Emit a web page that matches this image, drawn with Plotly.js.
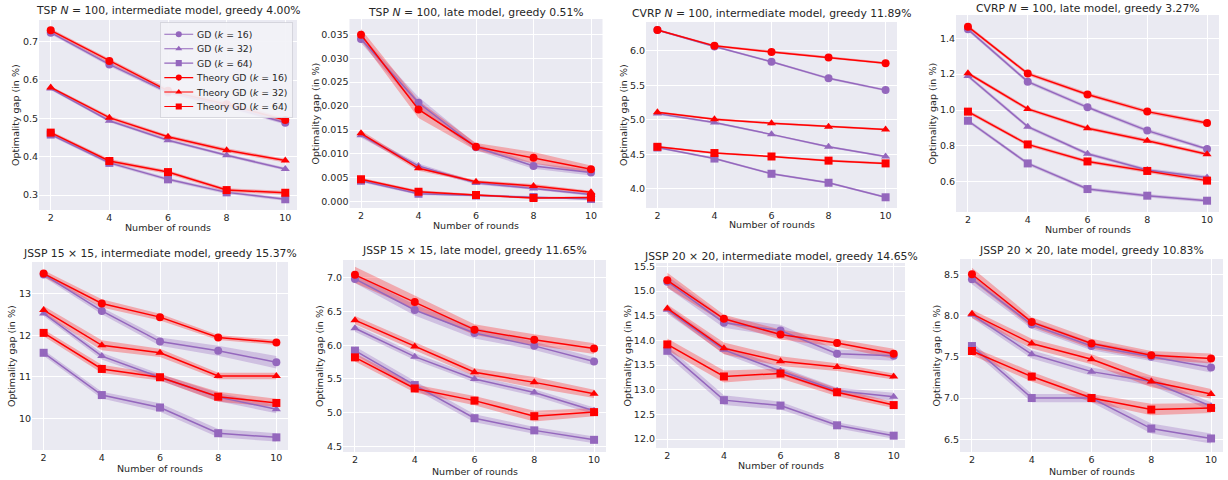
<!DOCTYPE html>
<html>
<head>
<meta charset="utf-8">
<script src="https://cdn.plot.ly/plotly-3.0.1.min.js"></script>
<style>
html,body{margin:0;padding:0;background:#fff;}
#chart{width:1228px;height:480px;}
</style>
</head>
<body>
<div id="chart"></div>
<script>
// ---------------- DATA ----------------
const rounds = [2, 4, 6, 8, 10];
const kValues = ['16', '32', '64'];

const panelTitles = [
  'TSP <i>N</i> = 100, intermediate model, greedy 4.00%',
  'TSP <i>N</i> = 100, late model, greedy 0.51%',
  'CVRP <i>N</i> = 100, intermediate model, greedy 11.89%',
  'CVRP <i>N</i> = 100, late model, greedy 3.27%',
  'JSSP 15 × 15, intermediate model, greedy 15.37%',
  'JSSP 15 × 15, late model, greedy 11.65%',
  'JSSP 20 × 20, intermediate model, greedy 14.65%',
  'JSSP 20 × 20, late model, greedy 10.83%'
];
const xAxisLabel = 'Number of rounds';
const yAxisLabel = 'Optimality gap (in %)';

// each: rows = k=16, k=32, k=64
const tspIntGD        = [[0.724, 0.641, 0.568, 0.532, 0.489], [0.578, 0.494, 0.443, 0.404, 0.368], [0.458, 0.384, 0.341, 0.307, 0.289]];
const tspIntTheory    = [[0.730, 0.650, 0.572, 0.537, 0.496], [0.581, 0.502, 0.452, 0.417, 0.390], [0.463, 0.389, 0.360, 0.313, 0.306]];
const tspIntGDErr     = [[0.004, 0.005, 0.005, 0.005, 0.005], [0.004, 0.004, 0.004, 0.004, 0.004], [0.004, 0.004, 0.004, 0.004, 0.004]];
const tspIntTheoryErr = [[0.005, 0.006, 0.006, 0.007, 0.006], [0.004, 0.005, 0.005, 0.005, 0.005], [0.004, 0.005, 0.005, 0.005, 0.005]];

const tspLateGD        = [[0.0340, 0.0207, 0.0114, 0.0075, 0.0061], [0.0139, 0.0075, 0.0039, 0.0028, 0.0015], [0.0044, 0.0017, 0.0013, 0.0010, 0.0006]];
const tspLateTheory    = [[0.0349, 0.0193, 0.0115, 0.0092, 0.0068], [0.0143, 0.0070, 0.0042, 0.0033, 0.0020], [0.0047, 0.0021, 0.0014, 0.0008, 0.0009]];
const tspLateGDErr     = [[0.0008, 0.0012, 0.0007, 0.0006, 0.0006], [0.0005, 0.0005, 0.0003, 0.0003, 0.0003], [0.0003, 0.0003, 0.0002, 0.0002, 0.0002]];
const tspLateTheoryErr = [[0.0012, 0.0018, 0.0008, 0.0012, 0.0008], [0.0006, 0.0005, 0.0003, 0.0004, 0.0003], [0.0003, 0.0003, 0.0002, 0.0002, 0.0002]];

const cvrpIntGD        = [[6.30, 6.06, 5.84, 5.60, 5.43], [5.09, 4.96, 4.79, 4.61, 4.47], [4.60, 4.44, 4.22, 4.09, 3.88]];
const cvrpIntTheory    = [[6.30, 6.07, 5.98, 5.90, 5.82], [5.11, 5.01, 4.95, 4.90, 4.86], [4.61, 4.52, 4.47, 4.41, 4.37]];
const cvrpIntGDErr     = [[0.015, 0.015, 0.015, 0.015, 0.015], [0.015, 0.015, 0.015, 0.015, 0.015], [0.015, 0.015, 0.015, 0.015, 0.015]];
const cvrpIntTheoryErr = [[0.015, 0.015, 0.015, 0.015, 0.015], [0.015, 0.015, 0.015, 0.015, 0.015], [0.015, 0.015, 0.015, 0.015, 0.015]];

const cvrpLateGD        = [[1.450, 1.158, 1.015, 0.885, 0.782], [1.190, 0.907, 0.756, 0.665, 0.624], [0.940, 0.702, 0.559, 0.522, 0.494]];
const cvrpLateTheory    = [[1.465, 1.203, 1.087, 0.991, 0.927], [1.205, 1.006, 0.898, 0.829, 0.753], [0.991, 0.808, 0.713, 0.660, 0.606]];
const cvrpLateGDErr     = [[0.010, 0.010, 0.010, 0.010, 0.010], [0.010, 0.010, 0.010, 0.010, 0.010], [0.010, 0.010, 0.010, 0.010, 0.010]];
const cvrpLateTheoryErr = [[0.010, 0.010, 0.010, 0.010, 0.010], [0.010, 0.010, 0.010, 0.010, 0.010], [0.010, 0.010, 0.010, 0.010, 0.010]];

const jssp15IntGD        = [[13.47, 12.59, 11.85, 11.63, 11.35], [12.53, 11.50, 10.99, 10.51, 10.22], [11.58, 10.56, 10.26, 9.64, 9.54]];
const jssp15IntTheory    = [[13.49, 12.77, 12.44, 11.95, 11.83], [12.61, 11.76, 11.58, 11.02, 11.02], [12.06, 11.19, 10.99, 10.52, 10.37]];
const jssp15IntGDErr     = [[0.06, 0.08, 0.10, 0.12, 0.15], [0.06, 0.08, 0.08, 0.10, 0.10], [0.07, 0.08, 0.10, 0.10, 0.10]];
const jssp15IntTheoryErr = [[0.08, 0.10, 0.08, 0.06, 0.06], [0.10, 0.12, 0.10, 0.08, 0.08], [0.08, 0.10, 0.08, 0.12, 0.10]];

const jssp15LateGD        = [[6.98, 6.52, 6.18, 5.99, 5.76], [6.25, 5.83, 5.50, 5.30, 5.03], [5.92, 5.41, 4.92, 4.74, 4.60]];
const jssp15LateTheory    = [[7.04, 6.64, 6.23, 6.08, 5.95], [6.37, 5.98, 5.60, 5.45, 5.28], [5.82, 5.36, 5.18, 4.95, 5.01]];
const jssp15LateGDErr     = [[0.06, 0.08, 0.08, 0.06, 0.06], [0.05, 0.05, 0.05, 0.05, 0.05], [0.06, 0.06, 0.06, 0.05, 0.05]];
const jssp15LateTheoryErr = [[0.12, 0.10, 0.08, 0.08, 0.08], [0.06, 0.06, 0.06, 0.08, 0.06], [0.06, 0.06, 0.07, 0.08, 0.06]];

const jssp20IntGD        = [[15.19, 14.36, 14.20, 13.73, 13.69], [14.62, 13.81, 13.38, 12.98, 12.86], [13.79, 12.79, 12.68, 12.28, 12.07]];
const jssp20IntTheory    = [[15.22, 14.44, 14.12, 13.95, 13.73], [14.65, 13.84, 13.58, 13.46, 13.27], [13.92, 13.27, 13.33, 12.95, 12.69]];
const jssp20IntGDErr     = [[0.12, 0.10, 0.12, 0.08, 0.10], [0.08, 0.08, 0.08, 0.06, 0.08], [0.10, 0.10, 0.08, 0.06, 0.06]];
const jssp20IntTheoryErr = [[0.15, 0.08, 0.10, 0.08, 0.10], [0.08, 0.12, 0.10, 0.08, 0.06], [0.12, 0.12, 0.10, 0.08, 0.06]];

const jssp20LateGD        = [[8.44, 7.89, 7.63, 7.50, 7.37], [8.01, 7.53, 7.32, 7.20, 6.90], [7.63, 7.00, 7.00, 6.63, 6.51]];
const jssp20LateTheory    = [[8.50, 7.92, 7.66, 7.52, 7.48], [8.02, 7.66, 7.47, 7.20, 7.05], [7.57, 7.26, 7.00, 6.86, 6.88]];
const jssp20LateGDErr     = [[0.06, 0.05, 0.05, 0.05, 0.06], [0.04, 0.05, 0.05, 0.05, 0.05], [0.05, 0.05, 0.05, 0.06, 0.06]];
const jssp20LateTheoryErr = [[0.08, 0.06, 0.06, 0.05, 0.06], [0.05, 0.06, 0.06, 0.07, 0.06], [0.05, 0.06, 0.05, 0.07, 0.06]];

const panelData = [
  [tspIntGD, tspIntTheory, tspIntGDErr, tspIntTheoryErr],
  [tspLateGD, tspLateTheory, tspLateGDErr, tspLateTheoryErr],
  [cvrpIntGD, cvrpIntTheory, cvrpIntGDErr, cvrpIntTheoryErr],
  [cvrpLateGD, cvrpLateTheory, cvrpLateGDErr, cvrpLateTheoryErr],
  [jssp15IntGD, jssp15IntTheory, jssp15IntGDErr, jssp15IntTheoryErr],
  [jssp15LateGD, jssp15LateTheory, jssp15LateGDErr, jssp15LateTheoryErr],
  [jssp20IntGD, jssp20IntTheory, jssp20IntGDErr, jssp20IntTheoryErr],
  [jssp20LateGD, jssp20LateTheory, jssp20LateGDErr, jssp20LateTheoryErr]
];

// ---------------- LAYOUT CONFIG (pixels) ----------------
const W = 1228, H = 480;
const boxes = [ // [left, right, top, bottom]
  [39, 297, 20, 210],
  [349.5, 602.5, 19, 208],
  [646, 897, 22, 208],
  [956, 1219, 15, 212],
  [32, 288, 262, 450],
  [343, 606, 260, 452],
  [656, 905, 263, 448],
  [960, 1223, 259, 452]
];
const yRanges = [[0.261, 0.757], [-0.0013, 0.0382], [3.725, 6.415], [0.431, 1.530],
                 [9.235, 13.77], [4.42, 7.26], [11.82, 15.57], [6.346, 8.685]];
const yDticks = [0.1, 0.005, 0.5, 0.2, 1, 0.5, 0.5, 0.5];
const yFormats = ['.1f', '.3f', '.1f', '.1f', 'd', '.1f', '.1f', '.1f'];
const titleY = [10, 12.5, 13.5, 8.5, 253, 250, 256, 250];
const xLabelY = [227, 225, 224, 229, 468, 471, 465, 471];
const yLabelX = [15, 315, 623, 932, 11, 319, 627, 936];
const legendBox = {right: 292, top: 22.5, scale: 0.76};

const GD_COLOR = '#9467bd', GD_FILL = 'rgba(148,103,189,0.32)';
const TH_COLOR = '#ff0000', TH_FILL = 'rgba(255,0,0,0.28)';
const markers = ['circle', 'triangle-up', 'square'];
const FONT = 'DejaVu Sans, Verdana, sans-serif';
const TXT = '#262626';

const traces = [];
const layout = {
  width: W, height: H,
  margin: {l: 0, r: 0, t: 0, b: 0},
  paper_bgcolor: '#ffffff',
  plot_bgcolor: '#EAEAF2',
  font: {family: FONT, color: TXT, size: 10},
  showlegend: true,
  legend: {
    x: legendBox.right / W, xanchor: 'right',
    y: 1 - legendBox.top / H, yanchor: 'top',
    bgcolor: 'rgba(242,242,247,0.92)', bordercolor: '#cfcfd6', borderwidth: 1,
    font: {family: FONT, size: 12.2, color: TXT},
    traceorder: 'normal', itemwidth: 38, tracegroupgap: 0
  },
  annotations: [],
  shapes: []
};

function bandTrace(xa, ya, ys, errs, fill) {
  const lo = ys.map((v, i) => v - errs[i]);
  const hi = ys.map((v, i) => v + errs[i]);
  return {
    x: rounds.concat(rounds.slice().reverse()),
    y: lo.concat(hi.slice().reverse()),
    xaxis: xa, yaxis: ya, type: 'scatter', mode: 'lines',
    fill: 'toself', fillcolor: fill, line: {width: 0, color: fill},
    hoverinfo: 'skip', showlegend: false
  };
}

for (let p = 0; p < 8; p++) {
  const n = p + 1;
  const xa = 'x' + (n === 1 ? '' : n), ya = 'y' + (n === 1 ? '' : n);
  const xk = 'xaxis' + (n === 1 ? '' : n), yk = 'yaxis' + (n === 1 ? '' : n);
  const [l, r, t, b] = boxes[p];
  const [gd, th, gdErr, thErr] = panelData[p];

  layout[xk] = {
    domain: [l / W, r / W], anchor: ya, range: [1.6, 10.4],
    tickvals: rounds, ticktext: rounds.map(String),
    showgrid: true, gridcolor: '#ffffff', gridwidth: 1, zeroline: false,
    showline: false, ticks: '', tickfont: {size: 9.5, color: TXT, family: FONT},
    fixedrange: true
  };
  layout[yk] = {
    domain: [1 - b / H, 1 - t / H], anchor: xa, range: yRanges[p],
    dtick: yDticks[p], tick0: 0, tickformat: yFormats[p],
    showgrid: true, gridcolor: '#ffffff', gridwidth: 1, zeroline: false,
    showline: false, ticks: '', tickfont: {size: 9.5, color: TXT, family: FONT},
    fixedrange: true
  };

  for (let k = 0; k < 3; k++) traces.push(bandTrace(xa, ya, gd[k], gdErr[k], GD_FILL));
  for (let k = 0; k < 3; k++) traces.push(bandTrace(xa, ya, th[k], thErr[k], TH_FILL));
  for (let k = 0; k < 3; k++) {
    traces.push({
      x: rounds, y: gd[k], xaxis: xa, yaxis: ya, type: 'scatter', mode: 'lines+markers',
      name: 'GD (<i>k</i> = ' + kValues[k] + ')', legendrank: k + 1,
      line: {color: GD_COLOR, width: 1.5},
      marker: {symbol: markers[k], size: 8, color: GD_COLOR},
      showlegend: p === 0
    });
  }
  for (let k = 0; k < 3; k++) {
    traces.push({
      x: rounds, y: th[k], xaxis: xa, yaxis: ya, type: 'scatter', mode: 'lines+markers',
      name: 'Theory GD (<i>k</i> = ' + kValues[k] + ')', legendrank: k + 4,
      line: {color: TH_COLOR, width: 1.5},
      marker: {symbol: markers[k], size: 8, color: TH_COLOR},
      showlegend: p === 0
    });
  }

  layout.annotations.push({
    text: panelTitles[p], xref: 'paper', yref: 'paper',
    x: (l + r) / 2 / W, y: 1 - titleY[p] / H, xanchor: 'center', yanchor: 'middle',
    showarrow: false, font: {size: 10.8, color: TXT, family: FONT}
  });
  layout.annotations.push({
    text: xAxisLabel, xref: 'paper', yref: 'paper',
    x: (l + r) / 2 / W, y: 1 - xLabelY[p] / H, xanchor: 'center', yanchor: 'middle',
    showarrow: false, font: {size: 9.5, color: TXT, family: FONT}
  });
  layout.annotations.push({
    text: yAxisLabel, xref: 'paper', yref: 'paper', textangle: -90,
    x: yLabelX[p] / W, y: 1 - (t + b) / 2 / H, xanchor: 'center', yanchor: 'middle',
    showarrow: false, font: {size: 9.5, color: TXT, family: FONT}
  });
}

Plotly.newPlot('chart', traces, layout, {displayModeBar: false, staticPlot: true}).then(function (gd) {
  // shrink the library-drawn legend to match the compact legend of the reference
  const leg = gd.querySelector('g.legend');
  if (!leg) return;
  const bg = leg.querySelector('rect.bg');
  const w = bg ? parseFloat(bg.getAttribute('width')) : leg.getBBox().width;
  const s = legendBox.scale;
  leg.setAttribute('transform', 'translate(' + (legendBox.right - w * s) + ',' + legendBox.top + ') scale(' + s + ')');
});
</script>
</body>
</html>
